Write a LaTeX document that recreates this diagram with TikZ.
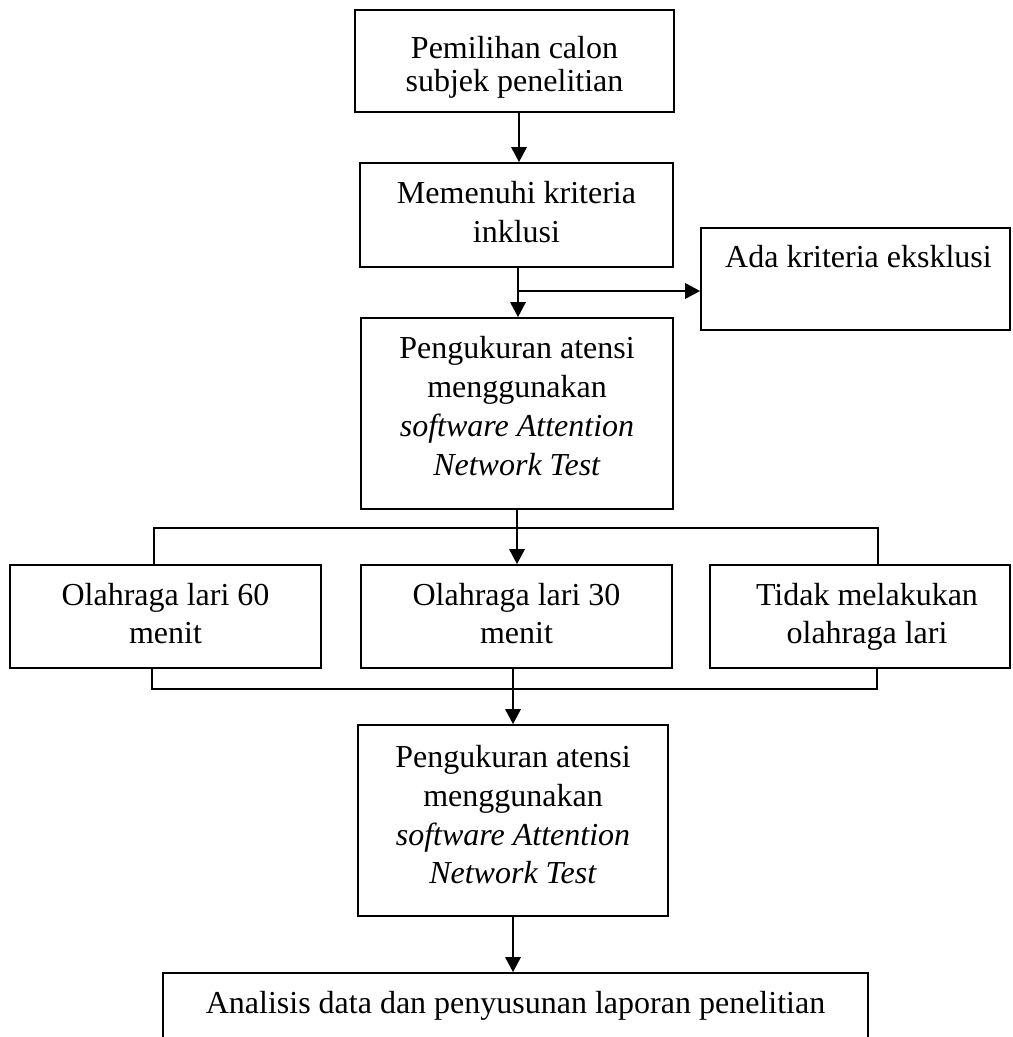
\documentclass[tikz,border=0pt]{standalone}
\usepackage{fontspec}
\setmainfont{Liberation Serif}
\usetikzlibrary{arrows.meta,fit}
\begin{document}
\begin{tikzpicture}[x=0.5pt,y=-0.5pt,
  boxstyle/.style={draw=black, line width=0.8pt, inner sep=0pt, rectangle},
  txt/.style={font=\fontsize{16}{19.5}\selectfont, anchor=base, inner sep=0pt},
  arr/.style={line width=1.4pt, -{Triangle[length=7.5pt,width=7.5pt]}},
  brk/.style={line width=0.75pt}]
\useasboundingbox (0,0) rectangle (1012,1037);
\clip (0,0) rectangle (1012,1037);

% boxes
\node[boxstyle, fit={(355,10) (674,112)}] (b1) {};
\node[boxstyle, fit={(360,163) (673,267)}] (b2) {};
\node[boxstyle, fit={(701,228) (1010,330)}] (ada) {};
\node[boxstyle, fit={(361,318) (673,509)}] (b3) {};
\node[boxstyle, fit={(10,565) (321,668)}] (r1) {};
\node[boxstyle, fit={(361,565) (672,668)}] (r2) {};
\node[boxstyle, fit={(710,565) (1010,668)}] (r3) {};
\node[boxstyle, fit={(358,725) (668,916)}] (b4) {};
\node[boxstyle, fit={(163,973) (868,1070)}] (b5) {};

% texts
\node[txt] (t1a) at (514.5,59) {Pemilihan calon};
\node[txt] (t1b) at (514.5,92) {subjek penelitian};
\node[txt] (t2a) at (516.5,204) {Memenuhi kriteria};
\node[txt] (t2b) at (516.5,243) {inklusi};
\node[txt] (tada) at (858.5,268) {Ada kriteria eksklusi};
\node[txt] (t3a) at (517,358) {Pengukuran atensi};
\node[txt] (t3b) at (517,397) {menggunakan};
\node[txt] (t3c) at (517,436) {\textit{software Attention}};
\node[txt] (t3d) at (517,475) {\textit{Network Test}};
\node[txt] (tr1a) at (165.5,605) {Olahraga lari 60};
\node[txt] (tr1b) at (165.5,643) {menit};
\node[txt] (tr2a) at (516.5,605) {Olahraga lari 30};
\node[txt] (tr2b) at (516.5,643) {menit};
\node[txt] (tr3a) at (867,605) {Tidak melakukan};
\node[txt] (tr3b) at (867,643) {olahraga lari};
\node[txt] (t4a) at (513,767) {Pengukuran atensi};
\node[txt] (t4b) at (513,806) {menggunakan};
\node[txt] (t4c) at (513,845) {\textit{software Attention}};
\node[txt] (t4d) at (513,883) {\textit{Network Test}};
\node[txt] (t5) at (515.5,1013) {Analisis data dan penyusunan laporan penelitian};

% connectors
\draw[arr] ([xshift=2.25pt]b1.south) -- ([xshift=2.25pt]b1.south |- b2.north);
\coordinate (br) at (518,291);
\draw[line width=1.4pt] ([xshift=0.75pt]b2.south) -- ([xshift=0.75pt]b2.south |- br);
\draw[arr] (br |- b2.south) -- (br |- b3.north);
\draw[arr] (br) -- (br -| ada.west);

\draw[arr] (b3.south) -- (b3.south |- r2.north);
\coordinate (tl) at (154,528);
\coordinate (tr) at (878,528);
\draw[brk] (tl |- r1.north) -- (tl) -- (tr) -- (tr |- r3.north);

\coordinate (bl) at (152,689);
\coordinate (bR) at (877,689);
\draw[brk] (bl |- r1.south) -- (bl) -- (bR) -- (bR |- r3.south);
\draw[arr] (r2.south -| b4.north) -- (b4.north);
\draw[arr] (b4.south) -- (b4.south |- b5.north);
\end{tikzpicture}
\end{document}
